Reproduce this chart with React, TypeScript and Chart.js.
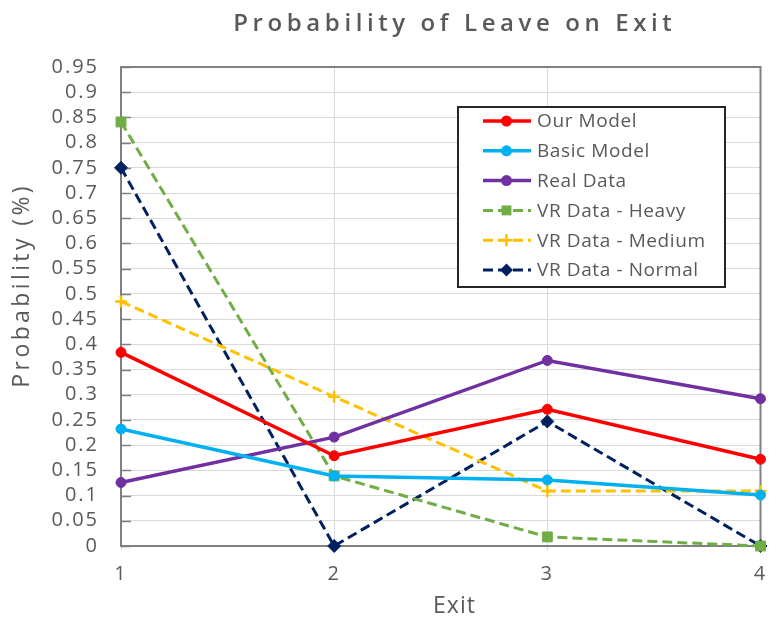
import React, { useEffect, useRef } from 'react';
import { Chart, registerables } from 'chart.js';

Chart.register(...registerables);

// ---- data ----
const exitLabels = ['1', '2', '3', '4'];
const ourModel = [0.384, 0.179, 0.271, 0.172];
const basicModel = [0.232, 0.139, 0.131, 0.101];
const realData = [0.126, 0.216, 0.368, 0.292];
const vrHeavy = [0.841, 0.139, 0.018, 0];
const vrMedium = [0.485, 0.296, 0.109, 0.109];
const vrNormal = [0.75, 0, 0.247, 0];
const seriesNames = ['Our Model', 'Basic Model', 'Real Data', 'VR Data - Heavy', 'VR Data - Medium', 'VR Data - Normal'];
const seriesValues = [ourModel, basicModel, realData, vrHeavy, vrMedium, vrNormal];

const yMin = 0;
const yMax = 0.95;
const yStep = 0.05;

const titleText = 'Probability of Leave on Exit';
const xTitleText = 'Exit';
const yTitleText = 'Probability (%)';

// ---- styles ----
const FONT = "'Open Sans', sans-serif";
const TEXT = '#595959';
const AXIS = '#808080';
const GRID = '#D9D9D9';

const seriesStyles = [
  { color: '#FF0000', dash: [] as number[], point: 'circle', r: 5, width: 3.5 },
  { color: '#00B0F0', dash: [] as number[], point: 'circle', r: 5, width: 3.5 },
  { color: '#7030A0', dash: [] as number[], point: 'circle', r: 5, width: 3.5 },
  { color: '#70AD47', dash: [10, 5], point: 'rect', r: 7, width: 3 },
  { color: '#FFC000', dash: [10, 5], point: 'cross', r: 6, width: 3 },
  { color: '#002060', dash: [10, 5], point: 'rectRot', r: 6.5, width: 3 },
];

function drawMarker(ctx: CanvasRenderingContext2D, style: string, x: number, y: number, r: number, color: string) {
  ctx.save();
  ctx.setLineDash([]);
  ctx.fillStyle = color;
  ctx.strokeStyle = color;
  ctx.lineWidth = 2.5;
  ctx.beginPath();
  if (style === 'circle') {
    ctx.arc(x, y, r + 0.5, 0, Math.PI * 2);
    ctx.fill();
  } else if (style === 'rect') {
    const s = r * Math.SQRT1_2;
    ctx.rect(x - s, y - s, 2 * s, 2 * s);
    ctx.fill();
  } else if (style === 'rectRot') {
    ctx.moveTo(x, y - r);
    ctx.lineTo(x + r, y);
    ctx.lineTo(x, y + r);
    ctx.lineTo(x - r, y);
    ctx.closePath();
    ctx.fill();
  } else if (style === 'cross') {
    ctx.moveTo(x, y - r);
    ctx.lineTo(x, y + r);
    ctx.moveTo(x - r, y);
    ctx.lineTo(x + r, y);
    ctx.stroke();
  }
  ctx.restore();
}

const decorPlugin = {
  id: 'decor',
  beforeDraw(chart: any) {
    const ctx = chart.ctx as any;
    ctx.letterSpacing = '2px';
  },
  beforeDatasetsDraw(chart: any) {
    const ctx = chart.ctx as CanvasRenderingContext2D;
    const { left, right, top, bottom } = chart.chartArea;
    ctx.save();
    ctx.strokeStyle = AXIS;
    ctx.lineWidth = 2;
    ctx.beginPath();
    ctx.moveTo(left, top);
    ctx.lineTo(right, top);
    ctx.lineTo(right, bottom);
    ctx.stroke();
    // inward ticks on y axis
    const ys = chart.scales.y;
    ctx.lineWidth = 1.5;
    ctx.beginPath();
    ys.ticks.forEach((t: any) => {
      const py = Math.round(ys.getPixelForValue(t.value)) + 0.5;
      ctx.moveTo(left, py);
      ctx.lineTo(left + 10, py);
    });
    ctx.stroke();
    ctx.restore();
  },
  afterDraw(chart: any) {
    const ctx = chart.ctx as any;
    ctx.save();
    ctx.fillStyle = TEXT;
    // title
    ctx.font = `600 24px ${FONT}`;
    ctx.letterSpacing = '4.6px';
    ctx.textAlign = 'left';
    ctx.textBaseline = 'alphabetic';
    const tw = ctx.measureText(titleText).width - 4.6;
    ctx.fillText(titleText, 452.5 - tw / 2, 31);
    // x title
    ctx.font = `23px ${FONT}`;
    ctx.letterSpacing = '1px';
    const xw = ctx.measureText(xTitleText).width - 1;
    ctx.fillText(xTitleText, 454 - xw / 2, 613);
    // y title
    ctx.save();
    ctx.translate(22, 287);
    ctx.rotate(-Math.PI / 2);
    ctx.font = `23px ${FONT}`;
    ctx.letterSpacing = '3.4px';
    ctx.textBaseline = 'middle';
    const yw = ctx.measureText(yTitleText).width - 3.4;
    ctx.fillText(yTitleText, -yw / 2, 0);
    ctx.restore();

    // legend
    const bx = 458, by = 107, bw = 267, bh = 180;
    ctx.fillStyle = '#FFFFFF';
    ctx.fillRect(bx, by, bw, bh);
    ctx.strokeStyle = '#262626';
    ctx.lineWidth = 2;
    ctx.strokeRect(bx, by, bw, bh);
    ctx.font = `19px ${FONT}`;
    ctx.letterSpacing = '0.6px';
    ctx.textBaseline = 'middle';
    chart.data.datasets.forEach((ds: any, i: number) => {
      const st = seriesStyles[i];
      const ry = 121 + i * 29.8;
      ctx.save();
      ctx.strokeStyle = st.color;
      ctx.lineWidth = st.width;
      ctx.setLineDash(st.dash);
      ctx.beginPath();
      ctx.moveTo(483, ry);
      ctx.lineTo(531, ry);
      ctx.stroke();
      ctx.restore();
      drawMarker(ctx, st.point, 506.5, ry, st.point === 'circle' ? 5 : st.r, st.color);
      ctx.fillStyle = TEXT;
      ctx.fillText(ds.label, 537, ry + 1);
    });
    ctx.restore();
  },
};

export default function App() {
  const canvasRef = useRef<HTMLCanvasElement | null>(null);

  useEffect(() => {
    const canvas = canvasRef.current;
    if (!canvas) return;
    const datasets = seriesNames.map((name, i) => {
      const st = seriesStyles[i];
      return {
        label: name,
        data: seriesValues[i],
        borderColor: st.color,
        backgroundColor: st.color,
        borderWidth: st.width,
        borderDash: st.dash,
        pointStyle: st.point,
        pointRadius: st.r,
        pointBorderWidth: st.point === 'cross' ? 2.5 : 1,
        pointBackgroundColor: st.color,
        pointBorderColor: st.color,
        tension: 0,
        fill: false,
        clip: false,
      };
    });
    const chart = new Chart(canvas, {
      type: 'line',
      data: { labels: exitLabels, datasets: datasets as any },
      options: {
        animation: false,
        responsive: false,
        devicePixelRatio: 1,
        layout: { padding: { top: 67, right: 5, left: 0, bottom: 0 } },
        plugins: {
          legend: { display: false },
          title: { display: false },
          tooltip: { enabled: false },
        },
        scales: {
          x: {
            type: 'category',
            offset: false,
            grid: { color: GRID, lineWidth: 1, drawTicks: true, tickLength: 4 },
            border: { color: AXIS, width: 2 },
            ticks: {
              color: TEXT,
              font: { family: FONT, size: 20 },
              padding: 12,
              maxRotation: 0,
            },
            afterFit: (s: any) => {
              s.height = 74;
              s.paddingLeft = 0;
              s.paddingRight = 0;
            },
          },
          y: {
            type: 'linear',
            min: yMin,
            max: yMax,
            grid: { color: GRID, lineWidth: 1, drawTicks: false },
            border: { color: AXIS, width: 2 },
            ticks: {
              stepSize: yStep,
              autoSkip: false,
              color: TEXT,
              font: { family: FONT, size: 20 },
              padding: 22,
              callback: (v: any) => Number(Number(v).toFixed(2)).toString(),
            },
            afterFit: (s: any) => {
              s.width = 121;
            },
          },
        },
      },
      plugins: [decorPlugin],
    });
    return () => chart.destroy();
  }, []);

  return (
    <div style={{ position: 'absolute', left: 0, top: 0, width: 769, height: 620, background: '#fff' }}>
      <canvas ref={canvasRef} width={769} height={620} style={{ display: 'block', width: 769, height: 620 }} />
    </div>
  );
}
